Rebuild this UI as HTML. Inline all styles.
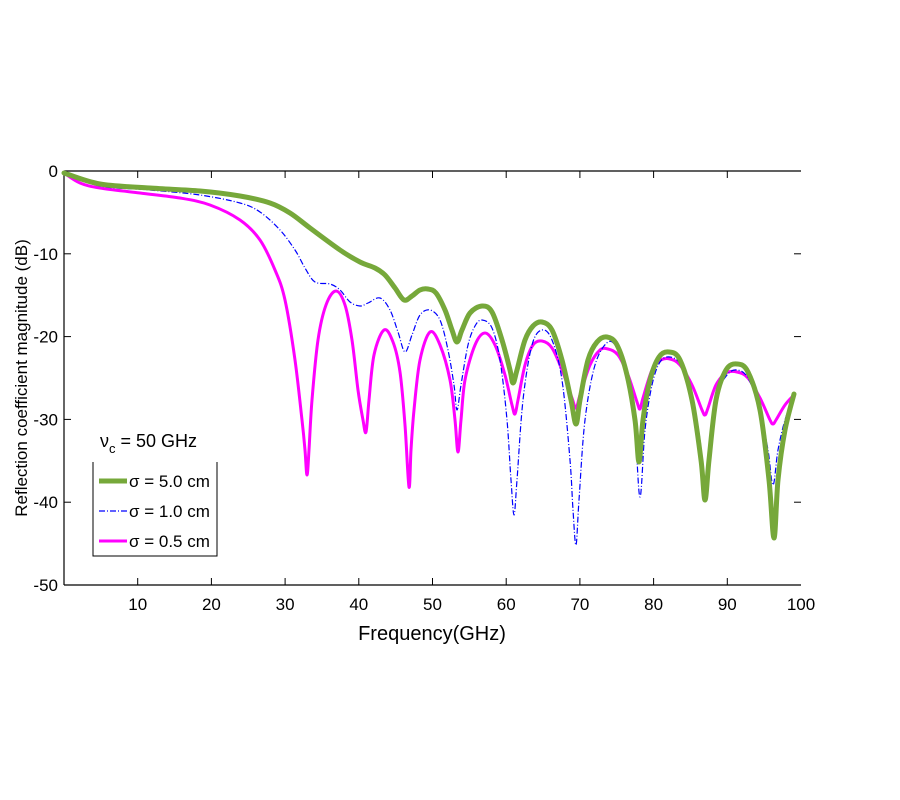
<!DOCTYPE html>
<html><head><meta charset="utf-8"><style>
html,body{margin:0;padding:0;background:#fff;}
svg{display:block;font-family:"Liberation Sans",Arial,sans-serif;}
</style></head><body>
<svg id="s" width="900" height="800" viewBox="0 0 900 800" xmlns="http://www.w3.org/2000/svg">
<rect width="900" height="800" fill="#fff"/>
<g stroke="#000" stroke-width="1.2" fill="none">
<line x1="64" y1="171" x2="801" y2="171"/>
<line x1="64" y1="171" x2="64" y2="585"/>
<line x1="64" y1="585" x2="801" y2="585"/>
</g>
<g id="ticks" stroke="#000" stroke-width="1"></g>
<g font-size="17" fill="#000" id="lbl"></g>
<text x="432" y="640" font-size="20" text-anchor="middle">Frequency(GHz)</text>
<text transform="translate(27,378) rotate(-90)" font-size="17" text-anchor="middle">Reflection coefficient magnitude (dB)</text>
<g fill="none" stroke-linejoin="round" stroke-linecap="round">
<path id="pm" stroke="#ff00ff" stroke-width="3"/>
<path id="pb" stroke="#0000ff" stroke-width="1.2" stroke-dasharray="6,2,1,2" stroke-linecap="butt"/>
<path id="pg" stroke="#76a83a" stroke-width="5"/>
</g>
<text x="100" y="447" font-size="18">ν<tspan font-size="13" dy="6">c</tspan><tspan dy="-6"> = 50 GHz</tspan></text>
<polyline points="93,462 93,556 217,556 217,462" fill="none" stroke="#000" stroke-width="1"/>
<line x1="99" y1="481" x2="127" y2="481" stroke="#76a83a" stroke-width="5"/>
<line x1="99" y1="511" x2="127" y2="511" stroke="#0000ff" stroke-width="1.2" stroke-dasharray="6,2,1,2"/>
<line x1="99" y1="541" x2="127" y2="541" stroke="#ff00ff" stroke-width="3"/>
<text x="129" y="487" font-size="17">σ = 5.0 cm</text>
<text x="129" y="517" font-size="17">σ = 1.0 cm</text>
<text x="129" y="547" font-size="17">σ = 0.5 cm</text>
</svg>
<script>
var NS="http://www.w3.org/2000/svg";
function el(p,t,a,txt){var e=document.createElementNS(NS,t);for(var k in a)e.setAttribute(k,a[k]);if(txt)e.textContent=txt;document.getElementById(p).appendChild(e);}
for(var i=1;i<=10;i++){var x=64+73.7*i;
 if(i<10){el("ticks","line",{x1:x,y1:585,x2:x,y2:578});el("ticks","line",{x1:x,y1:171,x2:x,y2:178});}
 el("lbl","text",{x:x,y:610,"text-anchor":"middle"},String(i*10));}
for(var j=0;j<=5;j++){var y=171+82.8*j;
 if(j>0&&j<5){el("ticks","line",{x1:64,y1:y,x2:71,y2:y});el("ticks","line",{x1:794,y1:y,x2:801,y2:y});}
 el("lbl","text",{x:58,y:y+6,"text-anchor":"end"},j==0?"0":String(-10*j));}
function cr(p){var d="M"+p[0][0]+","+p[0][1];
 for(var i=0;i<p.length-1;i++){var p0=p[i-1]||p[i],p1=p[i],p2=p[i+1],p3=p[i+2]||p2;
  d+=" C"+(p1[0]+(p2[0]-p0[0])/6).toFixed(1)+","+(p1[1]+(p2[1]-p0[1])/6).toFixed(1)+" "+(p2[0]-(p3[0]-p1[0])/6).toFixed(1)+","+(p2[1]-(p3[1]-p1[1])/6).toFixed(1)+" "+p2[0]+","+p2[1];}
 return d;}
var M=[[64,173],[80,183],[100,188],[140,193],[180,198],[210,205],[240,220],[260,240],[275,270],[285,300],[295,360],[302,420],[305,450],[307,475],[309,450],[312,400],[318,340],[326,305],[336,291],[345,305],[352,340],[358,390],[363,420],[366,432],[369,400],[374,355],[384,330],[393,342],[400,372],[405,425],[409,487],[411,450],[414,410],[420,360],[430,332],[440,345],[450,380],[455,420],[458,452],[461,420],[465,380],[475,345],[485,333],[495,345],[505,375],[512,405],[515,414],[518,400],[525,365],[533,345],[542,341],[552,348],[562,370],[572,398],[576,408],[580,395],[590,365],[600,350],[608,349],[618,355],[628,375],[637,402],[640,409],[643,398],[652,370],[661,360],[670,359],[680,365],[692,385],[702,410],[705,415],[708,408],[716,385],[726,373],[737,372],[748,378],[760,398],[770,420],[773,424],[776,420],[785,405],[794,395]];
var G=[[64,173],[100,184],[150,188],[200,191],[240,196],[270,203],[290,213],[310,228],[340,250],[360,262],[375,268],[385,275],[395,288],[404,300],[412,296],[420,290],[428,289],[436,293],[445,310],[452,330],[457,342],[462,330],[470,313],[482,306],[492,312],[502,340],[510,370],[513,383],[517,370],[525,340],[533,326],[542,322],[552,330],[562,360],[571,400],[576,424],[580,400],[588,360],[597,342],[607,337],[617,345],[627,375],[635,420],[639,462],[643,420],[650,380],[659,357],[669,352],[680,360],[692,400],[701,460],[705,500],[709,460],[716,400],[726,370],[737,364],[748,372],[760,410],[769,480],[774,538],[778,480],[785,430],[794,394]];
var B=[[64,173],[100,186],[150,190],[200,195],[240,203],[260,212],[280,230],[295,250],[305,268],[315,282],[330,284],[340,290],[350,302],[360,306],[368,303],[380,298],[390,310],[398,332],[405,352],[412,335],[420,315],[430,310],[440,320],[448,350],[454,385],[457,410],[461,385],[468,345],[475,326],[482,320],[492,328],[500,360],[507,420],[511,480],[514,515],[517,480],[523,400],[532,345],[542,330],[552,340],[562,380],[570,460],[573,510],[576,545],[579,500],[585,420],[595,365],[608,342],[618,350],[628,380],[635,430],[640,497],[645,430],[652,385],[660,362],[670,357],[681,365],[692,395],[700,440],[705,487],[710,440],[717,395],[727,375],[737,370],[748,378],[760,410],[768,450],[773,485],[778,450],[785,420],[794,394]];
document.getElementById("pm").setAttribute("d",cr(M));
document.getElementById("pg").setAttribute("d",cr(G));
document.getElementById("pb").setAttribute("d",cr(B));
</script>
</body></html>
